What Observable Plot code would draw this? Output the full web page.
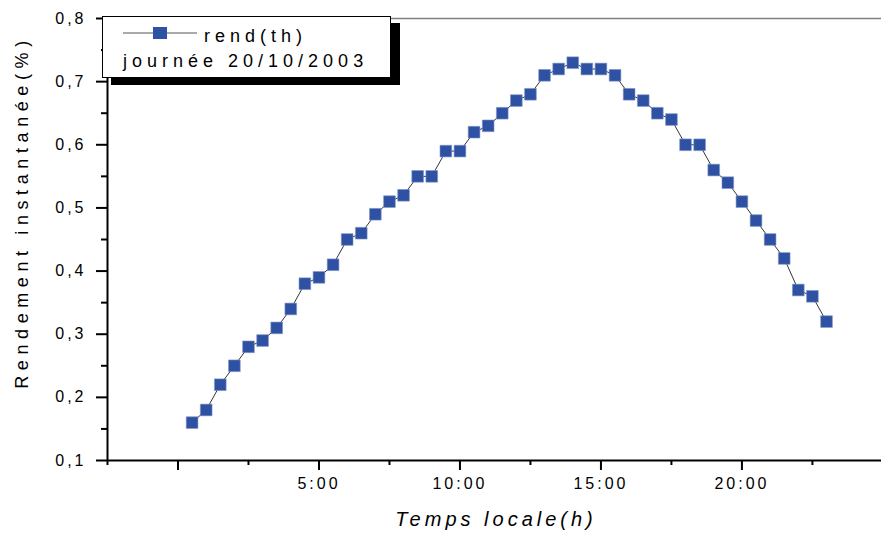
<!DOCTYPE html>
<html><head><meta charset="utf-8">
<script src="https://cdn.jsdelivr.net/npm/d3@7"></script>
<script src="https://cdn.jsdelivr.net/npm/@observablehq/plot@0.6"></script>
<style>
body{margin:0;background:#fff;}
#wrap{position:relative;width:881px;height:533px;font-family:"Liberation Sans",Arial,sans-serif;}
#legend{position:absolute;left:102px;top:16px;width:287px;height:60px;border:1px solid #000;background:#fff;box-shadow:9px 7px 0 #000;}
#legend svg{position:absolute;left:0;top:0;}
</style></head><body><div id="wrap"></div>
<script>
const hours = [0.5,1,1.5,2,2.5,3,3.5,4,4.5,5,5.5,6,6.5,7,7.5,8,8.5,9,9.5,10,10.5,11,11.5,12,12.5,13,13.5,14,14.5,15,15.5,16,16.5,17,17.5,18,18.5,19,19.5,20,20.5,21,21.5,22,22.5,23];
const rend = [0.16,0.18,0.22,0.25,0.28,0.29,0.31,0.34,0.38,0.39,0.41,0.45,0.46,0.49,0.51,0.52,0.55,0.55,0.59,0.59,0.62,0.63,0.65,0.67,0.68,0.71,0.72,0.73,0.72,0.72,0.71,0.68,0.67,0.65,0.64,0.60,0.60,0.56,0.54,0.51,0.48,0.45,0.42,0.37,0.36,0.32];
const xMajorTicks = [0,5,10,15,20];
const xMinorTicks = [-2.5,2.5,7.5,12.5,17.5,22.5];
const yMajorTicks = [0.1,0.2,0.3,0.4,0.5,0.6,0.7,0.8];
const yMinorTicks = [0.15,0.25,0.35,0.45,0.55,0.65,0.75];
const seriesName = "rend(th)";
const legendSub = "journée 20/10/2003";
const xTitle = "Temps locale(h)";
const yTitle = "Rendement instantanée(%)";

const data = hours.map((h,i)=>({h, v: rend[i]}));
const blue = "#2f51a3";

const chart = Plot.plot({
  width: 881, height: 533,
  marginLeft: 107, marginRight: 0, marginTop: 18, marginBottom: 73,
  x: {domain: [-2.5, 24.95]},
  y: {domain: [0.1, 0.8]},
  style: {fontFamily: "Liberation Sans, Arial, sans-serif", fontSize: "16px", color: "#000", background: "#fff"},
  marks: [
    Plot.ruleY([0.8], {stroke: "#808080", strokeWidth: 1.5}),
    Plot.axisX({ticks: xMajorTicks, tickSize: 10, tickPadding: 7, strokeWidth: 2, label: null,
      tickFormat: d => d === 0 ? "" : d + ":00"}),
    Plot.axisX({ticks: xMinorTicks, tickSize: 5, strokeWidth: 2, label: null, tickFormat: () => ""}),
    Plot.axisY({ticks: yMajorTicks, tickSize: 11, tickPadding: 10, strokeWidth: 2, label: null,
      tickFormat: d => d.toFixed(1).replace(".", ",")}),
    Plot.axisY({ticks: yMinorTicks, tickSize: 6, strokeWidth: 2, label: null, tickFormat: () => ""}),
    Plot.ruleX([-2.5], {stroke: "#000", strokeWidth: 2}),
    Plot.ruleY([0.1], {stroke: "#000", strokeWidth: 2}),
    Plot.line(data, {x: "h", y: "v", stroke: "#000", strokeWidth: 0.8}),
    Plot.dot(data, {x: "h", y: "v", symbol: "square", r: 6.6, fill: blue, stroke: "#7f95c8", strokeWidth: 0.6})
  ]
});

const svg = d3.select(chart);
svg.selectAll("text").style("letter-spacing", "3px");
svg.append("text")
  .attr("transform", "translate(28,212) rotate(-90)")
  .attr("text-anchor", "middle")
  .style("font-size", "18px").style("letter-spacing", "5.6px")
  .text(yTitle);
svg.append("text")
  .attr("x", 496).attr("y", 526)
  .attr("text-anchor", "middle")
  .style("font-size", "20px").style("font-style", "italic").style("letter-spacing", "4px")
  .text(xTitle);

const wrap = document.getElementById("wrap");
wrap.appendChild(chart);

const leg = document.createElement("div");
leg.id = "legend";
wrap.appendChild(leg);
const ls = d3.select(leg).append("svg").attr("width", 287).attr("height", 60)
  .style("font-family", "Liberation Sans, Arial, sans-serif");
ls.append("line").attr("x1", 20).attr("x2", 94).attr("y1", 16).attr("y2", 16).attr("stroke", "#555").attr("stroke-width", 1);
ls.append("rect").attr("x", 50).attr("y", 10).attr("width", 14).attr("height", 12).attr("fill", blue);
ls.append("text").attr("x", 101).attr("y", 25).style("font-size", "18px").style("letter-spacing", "5px").text(seriesName);
ls.append("text").attr("x", 20).attr("y", 50).style("font-size", "18px").style("letter-spacing", "5px").text(legendSub);
</script></body></html>
